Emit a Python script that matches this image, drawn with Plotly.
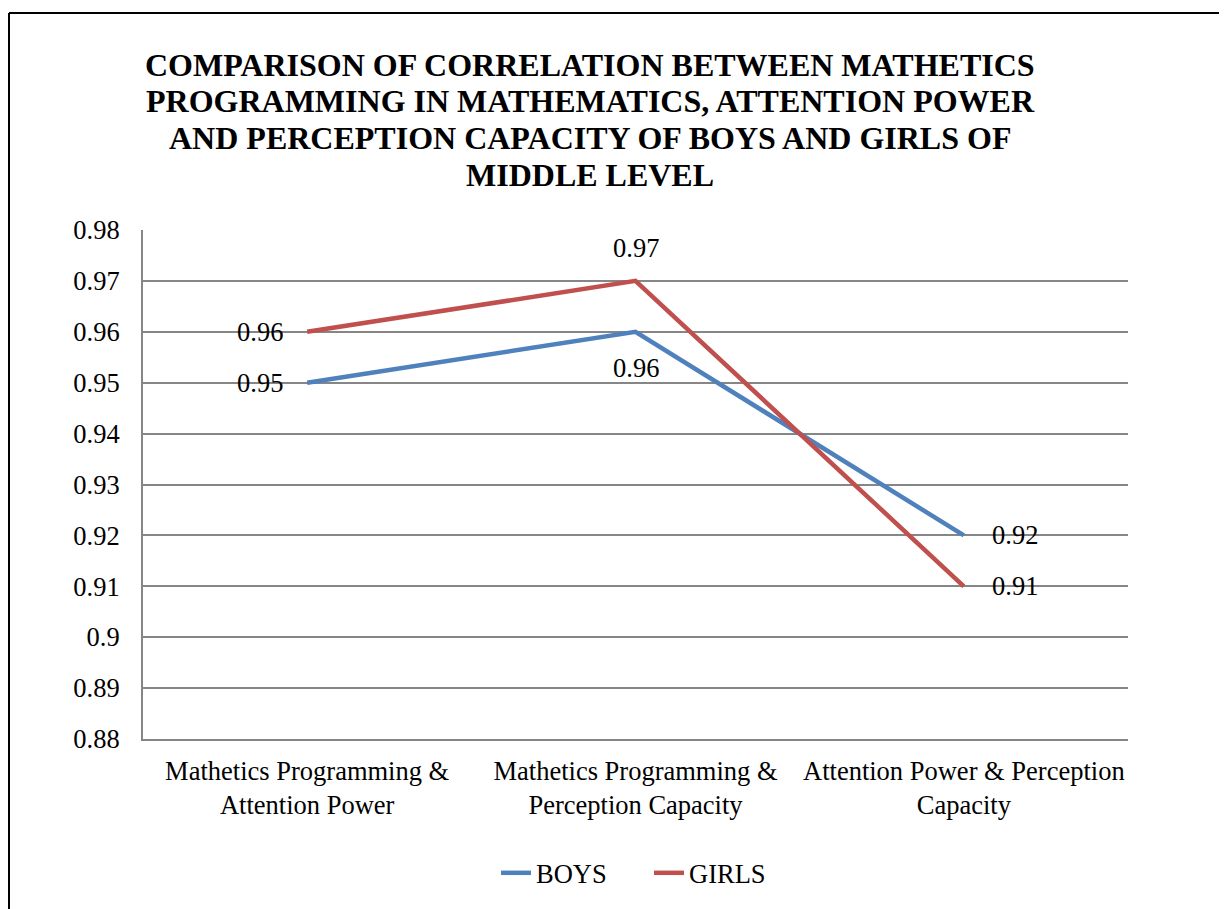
import plotly.graph_objects as go

categories = ["Mathetics Programming &<br>Attention Power",
              "Mathetics Programming &<br>Perception Capacity",
              "Attention Power & Perception<br>Capacity"]
boys = [0.95, 0.96, 0.92]
girls = [0.96, 0.97, 0.91]
title_lines = ["COMPARISON OF CORRELATION BETWEEN MATHETICS",
               "PROGRAMMING IN MATHEMATICS, ATTENTION POWER",
               "AND PERCEPTION CAPACITY OF BOYS AND GIRLS OF",
               "MIDDLE LEVEL"]
yticks = [0.88, 0.89, 0.90, 0.91, 0.92, 0.93, 0.94, 0.95, 0.96, 0.97, 0.98]
yticklabels = ["0.88", "0.89", "0.9", "0.91", "0.92", "0.93", "0.94", "0.95", "0.96", "0.97", "0.98"]

# label offsets (pixels) relative to each point
boys_shift = [(-47, 0), (0, -36), (51, 0)]
girls_shift = [(-47, 0), (0, 33), (51, 0)]

FONT = "Liberation Serif"
FS = 26.5
xs = [0, 1, 2]

# page body has an 8px margin -> work in reference coords minus 8
OFF = 8
W, H = 1227 - OFF, 909 - OFF
L, R, T, B = 143 - OFF, 1128 - OFF, 229.5 - OFF, 742 - OFF
pw, ph = R - L, B - T


def px(xr):
    return (xr - OFF - L) / pw


def py(yr):
    return (B - (yr - OFF)) / ph


fig = go.Figure()
fig.add_trace(go.Scatter(x=xs, y=boys, name="BOYS", mode="lines",
                         line=dict(color="#4F81BD", width=4.5)))
fig.add_trace(go.Scatter(x=xs, y=girls, name="GIRLS", mode="lines",
                         line=dict(color="#C0504D", width=4.5)))

for vals, shifts in ((boys, boys_shift), (girls, girls_shift)):
    for xi, v, (dx, dy) in zip(xs, vals, shifts):
        fig.add_annotation(x=xi, y=v, xref="x", yref="y", text=f"{v:.2f}",
                           showarrow=False, xshift=dx, yshift=dy,
                           xanchor="center", yanchor="middle",
                           font=dict(family=FONT, size=FS, color="black"))

title_y = [63, 100, 137, 174]
for t, yy in zip(title_lines, title_y):
    fig.add_annotation(x=px(590), y=py(yy), xref="paper", yref="paper", text=f"<b>{t}</b>",
                       showarrow=False, xanchor="center", yanchor="middle",
                       font=dict(family=FONT, size=32, color="black"))

fig.update_layout(
    width=W, height=H,
    margin=dict(l=L, r=W - R, t=T, b=H - B, pad=0),
    paper_bgcolor="white", plot_bgcolor="white",
    font=dict(family=FONT, size=FS, color="black"),
    showlegend=True,
    legend=dict(orientation="h", x=px(496), xanchor="left",
                y=py(877), yanchor="middle", entrywidth=108, entrywidthmode="pixels",
                font=dict(family=FONT, size=FS, color="black")),
    xaxis=dict(tickmode="array", tickvals=xs, ticktext=categories, range=[-0.5, 2.5],
               showgrid=False, showline=True, linecolor="#868686", linewidth=2,
               tickfont=dict(family=FONT, size=FS, color="black"), ticks="", zeroline=False,
               ticklabelstandoff=7),
    yaxis=dict(tickmode="array", tickvals=yticks, ticktext=yticklabels, range=[0.88, 0.98],
               showgrid=True, gridcolor="#868686", gridwidth=2, showline=True,
               linecolor="#868686", linewidth=2, zeroline=False, ticks="",
               ticklabelstandoff=16,
               tickfont=dict(family=FONT, size=FS, color="black")),
)

# outer frame (left and top edges)
fx = (1 - L) / pw
fy = (B - 3) / ph
fig.add_shape(type="line", xref="paper", yref="paper",
              x0=fx, x1=fx, y0=fy, y1=-(H - B) / ph - 0.05,
              line=dict(color="black", width=2))
fig.add_shape(type="line", xref="paper", yref="paper",
              x0=fx, x1=(W + 20 - L) / pw, y0=fy, y1=fy,
              line=dict(color="black", width=2))

fig.write_html("out.html")
